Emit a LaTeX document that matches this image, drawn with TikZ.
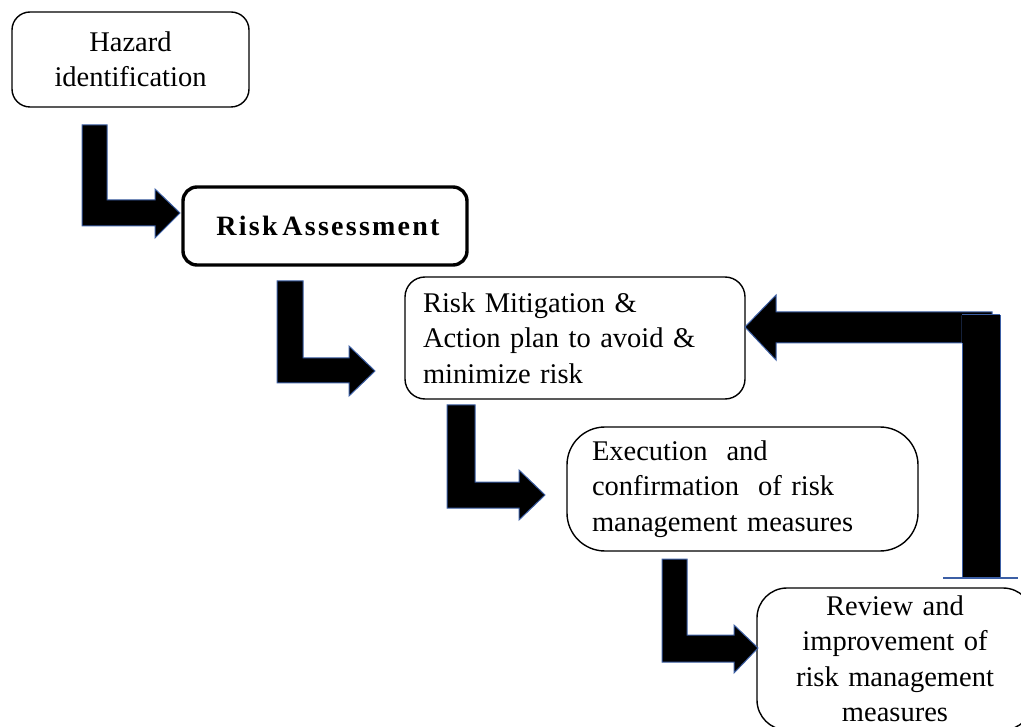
\documentclass[tikz,border=0pt]{standalone}
\usepackage{fontspec}
\setmainfont{Liberation Serif}[WordSpace=0.85]
\definecolor{arrowedge}{RGB}{60,95,165}
\begin{document}
\begin{tikzpicture}[x=1pt,y=-1pt,
  box/.style={draw=black, line width=1.4pt, fill=white, rounded corners=18pt,
    font=\fontsize{28.5}{35.5}\selectfont, inner sep=0pt},
  blockarrow/.style={fill=black, draw=arrowedge, line width=1pt, line join=miter},
]
\useasboundingbox (0,0) rectangle (1021,727);
\clip (0,0) rectangle (1021,727);

% boxes
\node[box, minimum width=237pt, minimum height=95pt, text width=220pt, align=center]
  (haz) at (130.5,59.5) {Hazard\\identification};
\node[box, line width=3.4pt, rounded corners=14pt, minimum width=284pt, minimum height=78pt,
  font=\fontsize{28}{32}\selectfont\bfseries\addfontfeature{LetterSpace=8}]
  (ra) at (325,226) {\hspace{6pt}Risk\hspace{-3pt} Assessment};
\node[box, rounded corners=20pt, minimum width=340pt, minimum height=122pt, text width=304pt, align=left]
  (rm) at (575,338) {Risk Mitigation \&\\Action plan to avoid \&\\minimize risk};
\node[box, rounded corners=38pt, minimum width=351pt, minimum height=124pt, text width=301pt, align=left]
  (ex) at (742.5,489) {Execution\ \ and\\confirmation\ \ of risk\\management measures};
\node[box, rounded corners=30pt, minimum width=276pt, minimum height=142pt, text width=270pt, align=center]
  (rv) at (895,659) {Review and\\improvement of\\risk management\\measures};

% elbow arrows
\draw[blockarrow] (82,125) -- (107,125) -- (107,200) -- (155,200) -- (155,189) -- (180,213)
  -- (155,238) -- (155,226) -- (82,226) -- cycle;
\draw[blockarrow] (277,281) -- (303,281) -- (303,358) -- (349,358) -- (349,346) -- (375,371)
  -- (349,396) -- (349,383) -- (277,383) -- cycle;
\draw[blockarrow] (447,405) -- (475,405) -- (475,482) -- (519,482) -- (519,470) -- (545,495)
  -- (519,520) -- (519,508) -- (447,508) -- cycle;
\draw[blockarrow] (662,559) -- (687,559) -- (687,635) -- (734,635) -- (734,625) -- (758,648)
  -- (734,673) -- (734,662) -- (662,662) -- cycle;

% feedback arrow
\draw[blockarrow] (992,312) -- (776,312) -- (776,295) -- (745,327) -- (776,360) -- (776,343)
  -- (962,343) -- (962,316) -- (992,316) -- cycle;
\fill[black] (962,315) rectangle (1000,578);
\draw[arrowedge, line width=1pt] (962,343) -- (962,578) (1000,315) -- (1000,578) (962,315) -- (1000,315);
\draw[arrowedge, line width=1.4pt] (943,578) -- (1018,578);
\end{tikzpicture}
\end{document}
